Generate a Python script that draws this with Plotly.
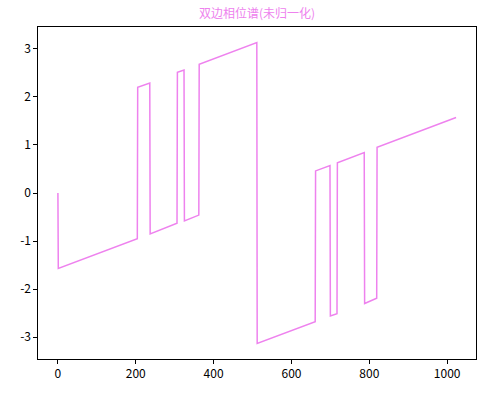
import plotly.graph_objects as go

# Vertices of the phase polyline (sample index, phase in radians)
freq_index = [0, 1, 204, 205, 236, 237, 306, 307, 324, 325, 362, 363, 511, 512,
              661, 662, 699, 700, 717, 718, 787, 788, 819, 820, 1023]
phase = [0.0, -1.57, -0.95, 2.20, 2.29, -0.85, -0.63, 2.51, 2.56, -0.58, -0.46, 2.68, 3.13, -3.13,
         -2.68, 0.46, 0.57, -2.56, -2.51, 0.63, 0.84, -2.30, -2.19, 0.95, 1.57]

x_ticks = [0, 200, 400, 600, 800, 1000]
x_tick_labels = ["0", "200", "400", "600", "800", "1000"]
y_ticks = [-3, -2, -1, 0, 1, 2, 3]
y_tick_labels = ["-3", "-2", "-1", "0", "1", "2", "3"]

title_text = "双边相位谱(未归一化)"

fig = go.Figure()
fig.add_trace(go.Scatter(x=freq_index, y=phase, mode="lines",
                         line=dict(color="#EE82EE", width=1.5), showlegend=False))

axis_common = dict(showline=True, linecolor="#000000", linewidth=1.2, mirror=True,
                   showgrid=False, zeroline=False, ticks="outside", ticklen=3.5,
                   tickcolor="#000000", tickwidth=1,
                   tickfont=dict(family="Noto Sans CJK SC", size=12, color="black"))

fig.update_layout(
    width=493, height=401,
    margin=dict(l=38, r=17, t=27, b=42),
    paper_bgcolor="white", plot_bgcolor="white",
    title=dict(text=title_text, x=0.5, xanchor="center", xref="paper",
               y=1 - 14 / 401, yref="container", yanchor="middle",
               font=dict(family="Noto Sans CJK SC", size=12, color="#EE82EE")),
    xaxis=dict(range=[-51.15, 1074.15], tickvals=x_ticks, ticktext=x_tick_labels, **axis_common),
    yaxis=dict(range=[-3.455, 3.455], tickvals=y_ticks, ticktext=y_tick_labels, **axis_common),
)

fig.write_html("out.html",
               config={"displayModeBar": False},
               post_script="document.body.style.margin='0';document.body.style.overflow='hidden';")
